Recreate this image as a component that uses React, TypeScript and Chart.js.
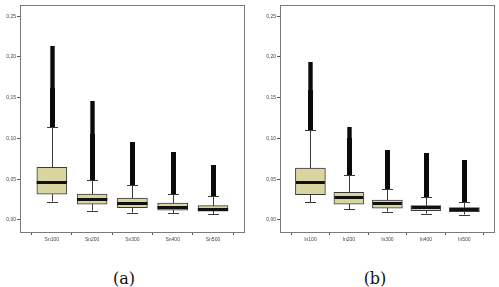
import React, { useEffect, useRef } from "react";
import { Chart, registerables } from "chart.js";

Chart.register(...registerables);

// Panel (a): Sn series
const snLabels = ["Sn100", "Sn200", "Sn300", "Sn400", "Sn500"];
const snLow = [0.0226, 0.0115, 0.009, 0.0082, 0.0074];
const snQ1 = [0.0317, 0.0194, 0.0152, 0.012, 0.0107];
const snMedian = [0.046, 0.0263, 0.0206, 0.0165, 0.014];
const snQ3 = [0.0646, 0.0317, 0.0268, 0.0206, 0.0177];
const snHigh = [0.114, 0.049, 0.043, 0.0317, 0.0296];
const snDenseTop = [0.162, 0.105, 0.096, 0.084, 0.068];
const snMax = [0.213, 0.146, 0.096, 0.084, 0.068];

// Panel (b): In series
const inLabels = ["In100", "In200", "In300", "In400", "In500"];
const inLow = [0.0218, 0.0132, 0.0103, 0.0078, 0.0066];
const inQ1 = [0.031, 0.0194, 0.0144, 0.0115, 0.0103];
const inMedian = [0.046, 0.0276, 0.0206, 0.0156, 0.0132];
const inQ3 = [0.0638, 0.034, 0.0243, 0.0177, 0.0152];
const inHigh = [0.111, 0.0555, 0.038, 0.0276, 0.0226];
const inDenseTop = [0.16, 0.1, 0.0856, 0.082, 0.073];
const inMax = [0.194, 0.114, 0.0856, 0.082, 0.073];

const yTicks = [0, 0.05, 0.1, 0.15, 0.2, 0.25];

type Panel = {
  labels: string[];
  low: number[];
  q1: number[];
  median: number[];
  q3: number[];
  high: number[];
  denseTop: number[];
  max: number[];
};

const BOX_HALF = 0.375; // half box width in category units
const CAP_HALF = 5.5; // whisker cap half width, px

const whiskerPlugin = {
  id: "whiskers",
  beforeDatasetsDraw(chart: any) {
    const p: Panel = chart.options.plugins.whiskers.panel;
    const { ctx, scales } = chart;
    const x = scales.x;
    const y = scales.y;
    ctx.save();
    ctx.strokeStyle = "#3a3a3a";
    ctx.lineWidth = 1;
    p.labels.forEach((_, i) => {
      const cx = Math.round(x.getPixelForValue(i)) + 0.5;
      ctx.beginPath();
      ctx.moveTo(cx, y.getPixelForValue(p.low[i]));
      ctx.lineTo(cx, y.getPixelForValue(p.high[i]));
      ctx.stroke();
    });
    ctx.restore();
  },
  afterDatasetsDraw(chart: any) {
    const p: Panel = chart.options.plugins.whiskers.panel;
    const { ctx, scales, chartArea } = chart;
    const x = scales.x;
    const y = scales.y;
    ctx.save();
    p.labels.forEach((_, i) => {
      const cx = Math.round(x.getPixelForValue(i)) + 0.5;
      // whisker caps
      ctx.strokeStyle = "#3a3a3a";
      ctx.lineWidth = 1;
      [p.low[i], p.high[i]].forEach((v) => {
        const py = Math.round(y.getPixelForValue(v)) + 0.5;
        ctx.beginPath();
        ctx.moveTo(cx - CAP_HALF, py);
        ctx.lineTo(cx + CAP_HALF, py);
        ctx.stroke();
      });
      // median
      const bl = x.getPixelForValue(i - BOX_HALF);
      const br = x.getPixelForValue(i + BOX_HALF);
      const my = Math.round(y.getPixelForValue(p.median[i])) + 0.5;
      ctx.strokeStyle = "#111";
      ctx.lineWidth = 3;
      ctx.beginPath();
      ctx.moveTo(bl, my);
      ctx.lineTo(br, my);
      ctx.stroke();
      // outlier columns: dense part, then narrower sparse tail
      ctx.fillStyle = "#0a0a0a";
      const h = Math.round(y.getPixelForValue(p.high[i]));
      const d = Math.round(y.getPixelForValue(p.denseTop[i]));
      const m = Math.round(y.getPixelForValue(p.max[i]));
      ctx.fillRect(cx - 2.5, d, 5, h - d);
      if (p.max[i] > p.denseTop[i]) {
        ctx.fillRect(cx - 1.5, m, 3, d - m);
        ctx.fillStyle = "#555";
        ctx.fillRect(cx - 2.5, m, 1, d - m);
        ctx.fillRect(cx + 1.5, m, 1, d - m);
      }
    });
    // plot frame
    ctx.strokeStyle = "#7a7a7a";
    ctx.lineWidth = 1;
    ctx.strokeRect(
      Math.round(chartArea.left) + 0.5,
      Math.round(chartArea.top) + 0.5,
      Math.round(chartArea.right - chartArea.left),
      Math.round(chartArea.bottom - chartArea.top)
    );
    ctx.restore();
  },
};

const fmt = (v: number) => v.toFixed(2).replace(".", ",");

function BoxPanel({
  panel,
  left,
  width,
  axisWidth,
  padRight,
}: {
  panel: Panel;
  left: number;
  width: number;
  axisWidth: number;
  padRight: number;
}) {
  const ref = useRef<HTMLCanvasElement>(null);
  useEffect(() => {
    if (!ref.current) return;
    const chart = new Chart(ref.current, {
      type: "bar",
      data: {
        datasets: [
          {
            data: panel.labels.map((_, i) => ({ x: i, y: [panel.q1[i], panel.q3[i]] })) as any,
            backgroundColor: "#d9d5a0",
            borderColor: "#3a3a3a",
            borderWidth: 1,
            borderSkipped: false,
            barThickness: 30,
          },
        ],
      },
      options: {
        animation: false,
        responsive: false,
        devicePixelRatio: 1,
        layout: { padding: { top: 5, right: padRight, left: 0, bottom: 0 } },
        plugins: {
          legend: { display: false },
          tooltip: { enabled: false },
          whiskers: { panel },
        } as any,
        scales: {
          x: {
            type: "linear",
            min: -0.79,
            max: 4.77,
            offset: false,
            afterBuildTicks: (s: any) => {
              s.ticks = panel.labels.map((_, i) => ({ value: i }));
            },
            afterFit: (s: any) => {
              s.height = 18;
            },
            ticks: {
              callback: (v: any) => panel.labels[v as number],
              font: { family: "Liberation Sans", size: 5 },
              color: "#444",
              padding: 2,
              maxRotation: 0,
              autoSkip: false,
            },
            grid: { drawOnChartArea: false, drawTicks: true, tickLength: 3, color: "#555" },
            border: { display: false },
          },
          y: {
            min: -0.01476,
            max: 0.2638,
            afterBuildTicks: (s: any) => {
              s.ticks = yTicks.map((v) => ({ value: v }));
            },
            afterFit: (s: any) => {
              s.width = axisWidth;
            },
            ticks: {
              callback: (v: any) => fmt(v as number),
              font: { family: "Liberation Sans", size: 5 },
              color: "#444",
              padding: 1,
            },
            grid: { drawOnChartArea: false, drawTicks: true, tickLength: 3, color: "#555" },
            border: { display: false },
          },
        },
      },
      plugins: [whiskerPlugin],
    });
    return () => chart.destroy();
  }, [panel, axisWidth, padRight]);
  return (
    <canvas
      ref={ref}
      width={width}
      height={250}
      style={{ position: "absolute", left, top: 0, width, height: 250 }}
    />
  );
}

const snPanel: Panel = {
  labels: snLabels,
  low: snLow,
  q1: snQ1,
  median: snMedian,
  q3: snQ3,
  high: snHigh,
  denseTop: snDenseTop,
  max: snMax,
};

const inPanel: Panel = {
  labels: inLabels,
  low: inLow,
  q1: inQ1,
  median: inMedian,
  q3: inQ3,
  high: inHigh,
  denseTop: inDenseTop,
  max: inMax,
};

const captionStyle: React.CSSProperties = {
  position: "absolute",
  top: 269,
  width: 60,
  textAlign: "center",
  fontFamily: "'DejaVu Serif', 'Liberation Serif', serif",
  fontSize: 16,
  lineHeight: "20px",
  color: "#111",
};

export default function App() {
  return (
    <div
      style={{
        position: "absolute",
        left: 0,
        top: 0,
        width: 499,
        height: 287,
        background: "#fff",
        overflow: "hidden",
      }}
    >
      <BoxPanel panel={snPanel} left={0} width={250} axisWidth={20} padRight={6} />
      <BoxPanel panel={inPanel} left={250} width={249} axisWidth={30} padRight={5} />
      <div style={{ ...captionStyle, left: 94 }}>(a)</div>
      <div style={{ ...captionStyle, left: 345 }}>(b)</div>
    </div>
  );
}
